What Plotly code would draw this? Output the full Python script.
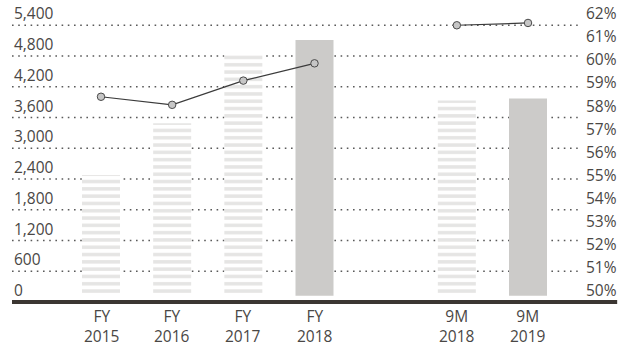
import plotly.graph_objects as go

# ---- data ----
categories = ["FY<br>2015", "FY<br>2016", "FY<br>2017", "FY<br>2018", "9M<br>2018", "9M<br>2019"]
cat_pos = [0, 1, 2, 3, 5, 6]
bar_values = [2480, 3490, 4860, 5115, 3930, 3970]
bar_striped = [True, True, True, False, True, False]
margin_values = [58.9, 58.55, 59.6, 60.35, 62.0, 62.1]
line_groups = [[0, 1, 2, 3], [4, 5]]
left_ticks = [0, 600, 1200, 1800, 2400, 3000, 3600, 4200, 4800, 5400]
left_labels = ["0", "600", "1,200", "1,800", "2,400", "3,000", "3,600", "4,200", "4,800", "5,400"]
right_ticks = list(range(50, 63))
right_labels = [f"{v}%" for v in right_ticks]

FONT = "Open Sans"
FS = 15.5
TXT = "#4a4745"
BAR = "#cccbc9"

fig = go.Figure()

# striped bars
sx = [p for p, s in zip(cat_pos, bar_striped) if s]
sy = [v for v, s in zip(bar_values, bar_striped) if s]
fig.add_trace(go.Bar(
    x=sx, y=sy, width=0.534,
    marker=dict(color="white", line=dict(width=0),
                pattern=dict(shape="-", fgcolor=BAR, bgcolor="white",
                             size=7.3, solidity=0.48, fillmode="overlay")),
    showlegend=False, hoverinfo="skip"))
# solid bars
ox = [p for p, s in zip(cat_pos, bar_striped) if not s]
oy = [v for v, s in zip(bar_values, bar_striped) if not s]
fig.add_trace(go.Bar(
    x=ox, y=oy, width=0.534,
    marker=dict(color=BAR, line=dict(width=0)),
    showlegend=False, hoverinfo="skip"))

# margin line (two segments)
for g in line_groups:
    fig.add_trace(go.Scatter(
        x=[cat_pos[i] for i in g], y=[margin_values[i] for i in g],
        yaxis="y2", mode="lines+markers", cliponaxis=False,
        line=dict(color="#3b3b3b", width=1.2),
        marker=dict(size=7.5, color="#c6c6c6", line=dict(color="#4a4a4a", width=1)),
        showlegend=False, hoverinfo="skip"))

shapes = []
for t in left_ticks[1:]:
    shapes.append(dict(type="line", xref="paper", yref="y", x0=0, x1=0.932, y0=t, y1=t,
                       line=dict(color="#5a5a5a", width=1.6, dash="1.6px,4.6px"), layer="below"))
# small white gap above baseline
shapes.append(dict(type="rect", xref="paper", yref="y", x0=0, x1=1, y0=0, y1=120,
                   fillcolor="white", line=dict(width=0), layer="above"))
# baseline
shapes.append(dict(type="line", xref="paper", yref="paper", x0=0, x1=0.997, y0=0, y1=0,
                   line=dict(color="#3b3632", width=4), layer="above"))

annotations = []
for t, lab in zip(left_ticks, left_labels):
    annotations.append(dict(xref="paper", yref="y", x=0, y=t, text=lab, showarrow=False,
                            xanchor="left", yanchor="middle", yshift=12,
                            font=dict(family=FONT, size=FS, color=TXT)))
for t, lab in zip(right_ticks, right_labels):
    annotations.append(dict(xref="paper", yref="y2", x=1, y=t, text=lab, showarrow=False,
                            xanchor="right", yanchor="middle", yshift=12,
                            font=dict(family=FONT, size=FS, color=TXT)))
for p, lab in zip(cat_pos, categories):
    annotations.append(dict(xref="x", yref="paper", x=p, y=0, text=lab, showarrow=False,
                            xanchor="center", yanchor="middle", yshift=-24,
                            font=dict(family=FONT, size=FS, color=TXT)))

fig.update_layout(
    width=634, height=347,
    margin=dict(l=12, r=15, t=10, b=44.5, autoexpand=False),
    paper_bgcolor="white", plot_bgcolor="white",
    barmode="overlay",
    font=dict(family=FONT, size=FS, color=TXT),
    xaxis=dict(range=[-1.2505, 7.2786], showticklabels=False,
               showgrid=False, zeroline=False, showline=False, ticks="", automargin=False),
    yaxis=dict(range=[0, 5698], showgrid=False, zeroline=False, showticklabels=False,
               automargin=False),
    yaxis2=dict(range=[50, 62.662], overlaying="y", side="right", showgrid=False,
                zeroline=False, showticklabels=False, automargin=False),
    shapes=shapes, annotations=annotations,
)

fig.write_html("out.html")
